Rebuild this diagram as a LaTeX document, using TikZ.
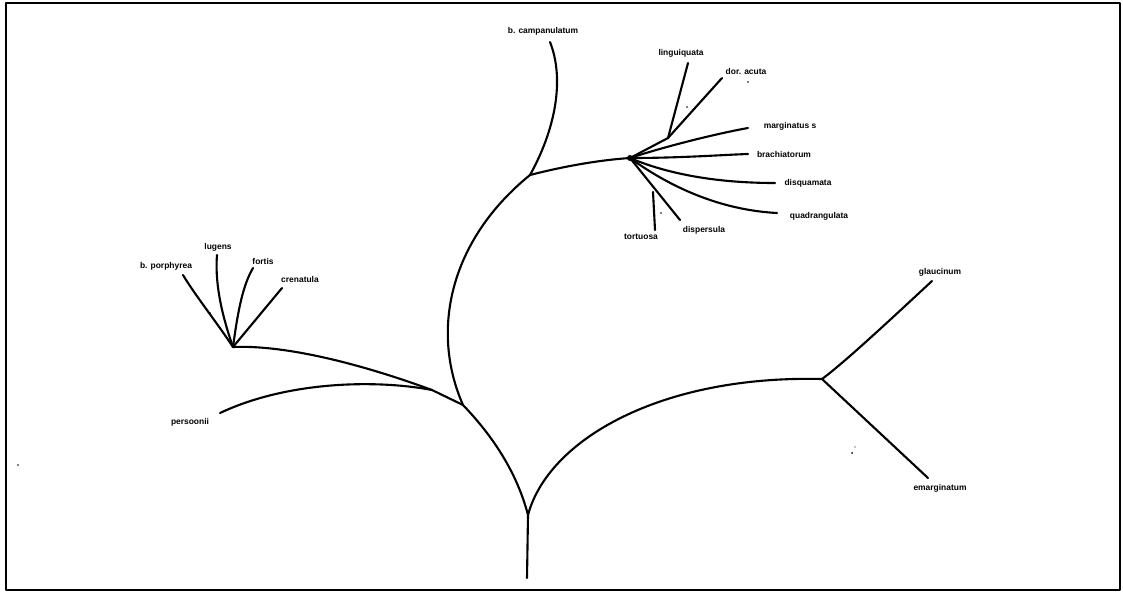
\documentclass[tikz,border=0pt]{standalone}
\usepackage{fontspec}
\setmainfont{Liberation Sans}
\tikzset{lbl/.style={font=\fontsize{6}{7}\selectfont\bfseries, inner sep=0pt},
  br/.style={line width=1.5pt}}
\begin{document}
\begin{tikzpicture}[x=0.025cm, y=-0.025cm, line join=round, line cap=round]
\useasboundingbox (0,0) rectangle (1123,593);
\draw[line width=1.2pt] (6,3) rectangle (1120,590);
% branch points
\coordinate (root) at (527,578);
\coordinate (fork) at (528,515);
\coordinate (j1) at (463,405);
\coordinate (j0) at (432,390);
\coordinate (j2) at (530,175);
\coordinate (hub) at (630,158);
\coordinate (hs1) at (668,138);
\coordinate (hs2) at (653,192);
\coordinate (lhub) at (233,347);
\coordinate (rhub) at (822,379);
% free ends
\coordinate (e1) at (550,42);
\coordinate (e2) at (688,63);
\coordinate (e3) at (722,78);
\coordinate (e4) at (748,128);
\coordinate (e5) at (748,154);
\coordinate (e6) at (775,183);
\coordinate (e7) at (777,213);
\coordinate (e8) at (655,230);
\coordinate (e9) at (680,220);
\coordinate (e10) at (183,275);
\coordinate (e11) at (217,255);
\coordinate (e12) at (253,268);
\coordinate (e13) at (282,288);
\coordinate (e14) at (220,413);
\coordinate (e15) at (932,281);
\coordinate (e16) at (928,478);
% trunk and main limbs
\draw[br] (root) -- (fork);
\draw[br] (fork) .. controls (515,465) and (485,428) .. (j1);
\draw[br] (j1) -- (j0);
\draw[br] (fork) .. controls (548,440) and (660,375) .. (rhub);
\draw[br] (j1) .. controls (430,330) and (450,240) .. (j2);
\draw[br] (j0) .. controls (350,360) and (280,345) .. (lhub);
\draw[br] (j0) .. controls (380,380) and (290,380) .. (e14);
% upper right cluster
\draw[br] (j2) .. controls (555,130) and (565,80) .. (e1);
\draw[br] (j2) .. controls (565,166) and (600,160) .. (hub);
\draw[br] (hub) -- (hs1) -- (e3);
\draw[br] (hs1) -- (e2);
\draw[br] (hub) .. controls (670,145) and (720,133) .. (e4);
\draw[br] (hub) .. controls (680,158) and (720,155) .. (e5);
\draw[br] (hub) .. controls (670,175) and (720,183) .. (e6);
\draw[br] (hub) .. controls (670,187) and (720,210) .. (e7);
\draw[br] (hub) -- (e9);
\draw[br] (hs2) -- (e8);
\fill (hub) circle (3);
% left cluster
\draw[br] (lhub) .. controls (215,320) and (195,295) .. (e10);
\draw[br] (lhub) .. controls (220,310) and (215,280) .. (e11);
\draw[br] (lhub) .. controls (238,310) and (243,285) .. (e12);
\draw[br] (lhub) -- (e13);
% right pair
\draw[br] (rhub) .. controls (845,362) and (890,320) .. (e15);
\draw[br] (rhub) -- (e16);
% specks
\fill (210,313) circle (0.8) (687,107) circle (0.8) (661,213) circle (0.8)
  (748,82) circle (0.8) (852,453) circle (1) (855,447) circle (0.7) (18,465) circle (0.8);
% labels
\node[lbl] (t1) at (543,31) {b. campanulatum};
\node[lbl] (t2) at (681,53) {linguiquata};
\node[lbl] (t3) at (746,71) {dor. acuta};
\node[lbl] (t4) at (790,126) {marginatus s};
\node[lbl] (t5) at (784,154) {brachiatorum};
\node[lbl] (t6) at (808,183) {disquamata};
\node[lbl] (t7) at (819,216) {quadrangulata};
\node[lbl] (t8) at (641,237) {tortuosa};
\node[lbl] (t9) at (704,230) {dispersula};
\node[lbl] (t10) at (166,266) {b. porphyrea};
\node[lbl] (t11) at (218,247) {lugens};
\node[lbl] (t12) at (263,261) {fortis};
\node[lbl] (t13) at (300,279) {crenatula};
\node[lbl] (t14) at (190,422) {persoonii};
\node[lbl] (t15) at (940,272) {glaucinum};
\node[lbl] (t16) at (940,488) {emarginatum};
\end{tikzpicture}
\end{document}
